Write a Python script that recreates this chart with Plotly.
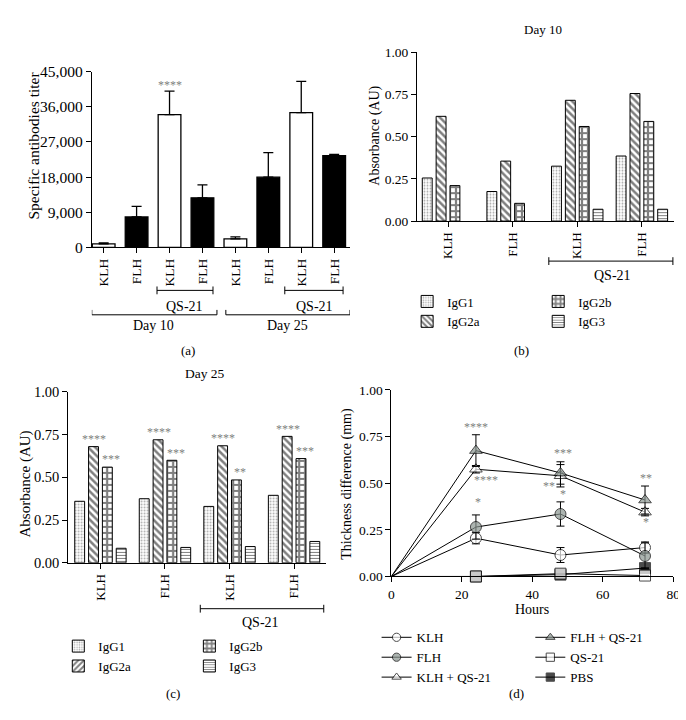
import plotly.graph_objects as go

W, H = 686, 720
FONT = "Liberation Serif"
STAR = "#808080"
GREY = "#8a9590"

# ---------------- data ----------------
# (a) specific antibody titer
a_labels = ["KLH", "FLH", "KLH", "FLH", "KLH", "FLH", "KLH", "FLH"]
a_values = [900, 7800, 34000, 12700, 2200, 18000, 34500, 23500]
a_err = [250, 2700, 6000, 3300, 500, 6300, 8000, 300]
a_fill = ["white", "black", "white", "black", "white", "black", "white", "black"]

# (b) Day 10 isotypes, (c) Day 25 isotypes
groups = ["KLH", "FLH", "KLH", "FLH"]
isotypes = ["IgG1", "IgG2a", "IgG2b", "IgG3"]
b_values = {
    "IgG1": [0.255, 0.175, 0.325, 0.385],
    "IgG2a": [0.62, 0.355, 0.715, 0.755],
    "IgG2b": [0.21, 0.105, 0.56, 0.59],
    "IgG3": [None, None, 0.07, 0.07],
}
c_values = {
    "IgG1": [0.36, 0.375, 0.33, 0.395],
    "IgG2a": [0.68, 0.72, 0.685, 0.74],
    "IgG2b": [0.56, 0.60, 0.485, 0.61],
    "IgG3": [0.085, 0.09, 0.095, 0.125],
}
c_stars_2a = ["****", "****", "****", "****"]
c_stars_2b = ["***", "***", "**", "***"]

# (d) DTH thickness difference
hours = [0, 24, 48, 72]
d_series = {
    "KLH": ([0, 0.205, 0.115, 0.155], [0, 0.03, 0.04, 0.03]),
    "FLH": ([0, 0.265, 0.335, 0.11], [0, 0.065, 0.065, 0.07]),
    "KLH + QS-21": ([0, 0.575, 0.54, 0.345], [0, 0.02, 0.06, 0.02]),
    "FLH + QS-21": ([0, 0.675, 0.555, 0.41], [0, 0.085, 0.06, 0.075]),
    "PBS": ([0, 0.0, 0.01, 0.045], [0, 0, 0, 0]),
    "QS-21": ([0, 0.0, 0.015, 0.005], [0, 0, 0, 0]),
}
d_stars = [(24, 0.80, "****"), (27, 0.52, "****"), (24.6, 0.40, "*"),
           (48.7, 0.66, "***"), (44.8, 0.485, "**"), (48.7, 0.44, "*"),
           (72.2, 0.53, "**"), (72.4, 0.29, "*")]


def PX(x):
    return x / W


def PY(y):
    return 1 - y / H


patterns_b = {
    "IgG1": dict(shape=".", fgcolor="#555", bgcolor="white", size=3, solidity=0.3),
    "IgG2a": dict(shape="\\", fgcolor="black", bgcolor="white", size=5, solidity=0.5),
    "IgG2b": dict(shape="+", fgcolor="black", bgcolor="white", size=6, solidity=0.6),
    "IgG3": dict(shape="-", fgcolor="black", bgcolor="white", size=3, solidity=0.35),
}
patterns_c_legend = dict(patterns_b)
patterns_c_legend["IgG2a"] = dict(shape="/", fgcolor="black", bgcolor="white", size=5, solidity=0.5)

fig = go.Figure()

# ---------------- panel (a) ----------------
fig.add_trace(go.Bar(
    x=list(range(len(a_values))), y=a_values, width=0.69,
    marker=dict(color=a_fill, line=dict(color="black", width=1.3)),
    error_y=dict(type="data", array=a_err, arrayminus=[0] * len(a_err), symmetric=False,
                 color="black", thickness=1.3, width=5),
    xaxis="x", yaxis="y", showlegend=False))

# ---------------- panels (b) and (c) ----------------
slot = 14 / 65.3
bw = 10 / 65.3
legend_of = {"IgG1": "legend2", "IgG2a": "legend2", "IgG2b": "legend3", "IgG3": "legend3"}
legend_of_c = {"IgG1": "legend4", "IgG2a": "legend4", "IgG2b": "legend5", "IgG3": "legend5"}
for i, iso in enumerate(isotypes):
    off = (i - 1.5) * slot - bw / 2
    fig.add_trace(go.Bar(
        x=list(range(4)), y=b_values[iso], width=bw, offset=off, name=iso,
        marker=dict(color="white", line=dict(color="black", width=1), pattern=patterns_b[iso]),
        xaxis="x2", yaxis="y2", legend=legend_of[iso], showlegend=True))
    fig.add_trace(go.Bar(
        x=list(range(4)), y=c_values[iso], width=bw, offset=off, name=iso,
        marker=dict(color="white", line=dict(color="black", width=1), pattern=patterns_b[iso]),
        xaxis="x3", yaxis="y3", showlegend=False))
    fig.add_trace(go.Bar(
        x=[None], y=[None], name=iso,
        marker=dict(color="white", line=dict(color="black", width=1), pattern=patterns_c_legend[iso]),
        xaxis="x3", yaxis="y3", legend=legend_of_c[iso], showlegend=True))

# ---------------- panel (d) ----------------
styles = {
    "KLH": dict(symbol="circle", color="white", legend="legend"),
    "FLH": dict(symbol="circle", color=GREY, legend="legend"),
    "KLH + QS-21": dict(symbol="triangle-up", color="white", legend="legend"),
    "FLH + QS-21": dict(symbol="triangle-up", color=GREY, legend="legend6"),
    "PBS": dict(symbol="square", color="black", legend="legend6"),
    "QS-21": dict(symbol="square", color="white", legend="legend6"),
}
rank = {"KLH": 1, "FLH": 2, "KLH + QS-21": 3, "FLH + QS-21": 4, "QS-21": 5, "PBS": 6}
for name, (vals, errs) in d_series.items():
    st = styles[name]
    fig.add_trace(go.Scatter(
        x=hours, y=vals, mode="lines+markers", name=name, cliponaxis=False,
        line=dict(color="black", width=1),
        marker=dict(symbol=st["symbol"], color=st["color"], size=[0, 11, 11, 11],
                    line=dict(color="black", width=1)),
        error_y=dict(type="data", array=errs, color="black", thickness=1, width=4),
        xaxis="x4", yaxis="y4", legend=st["legend"], legendrank=rank[name]))

# ---------------- axes ----------------
def f(size):
    return dict(family=FONT, size=size, color="black")


common = dict(showgrid=False, zeroline=False, showline=True, linecolor="black", linewidth=1,
              ticks="outside", ticklen=5, tickcolor="black")

fig.update_layout(
    width=W, height=H, margin=dict(l=0, r=0, t=0, b=0),
    paper_bgcolor="white", plot_bgcolor="white",
    font=dict(family=FONT, size=14, color="black"),
    barmode="overlay",
    xaxis=dict(domain=[PX(82), PX(344)], anchor="y", range=[-0.36, 7.48], tickfont=f(13.5),
               tickvals=list(range(8)), ticktext=a_labels, tickangle=-90, **common),
    yaxis=dict(domain=[PY(236), PY(56)], anchor="x", range=[0, 45000], tickfont=f(15.5),
               tickvals=[0, 9000, 18000, 27000, 36000, 45000], tickformat=",d", **common),
    xaxis2=dict(domain=[PX(412), PX(673)], anchor="y2", range=[-0.48, 3.5], tickfont=f(13),
                tickvals=list(range(4)), ticktext=groups, tickangle=-90, **common),
    yaxis2=dict(domain=[PY(209), PY(36)], anchor="x2", range=[0, 1], tickfont=f(13.5),
                tickvals=[0, 0.25, 0.5, 0.75, 1.0], tickformat=".2f", **common),
    xaxis3=dict(domain=[PX(58), PX(320)], anchor="y3", range=[-0.5, 3.5], tickfont=f(13),
                tickvals=list(range(4)), ticktext=groups, tickangle=-90, **common),
    yaxis3=dict(domain=[PY(559), PY(384)], anchor="x3", range=[0, 1], tickfont=f(14.5),
                tickvals=[0, 0.25, 0.5, 0.75, 1.0], tickformat=".2f", **common),
    xaxis4=dict(domain=[PX(386), PX(672)], anchor="y4", range=[0, 80], tickfont=f(13.5),
                tickvals=[0, 20, 40, 60, 80], **common),
    yaxis4=dict(domain=[PY(573), PY(382)], anchor="x4", range=[0, 1], tickfont=f(13.5),
                tickvals=[0, 0.25, 0.5, 0.75, 1.0], tickformat=".2f", **common),
)

legbase = dict(orientation="v", bgcolor="rgba(0,0,0,0)", borderwidth=0,
               xanchor="left", yanchor="top", itemclick=False, tracegroupgap=0)
fig.update_layout(
    legend=dict(x=PX(371), y=PY(620), font=f(13), **legbase),
    legend6=dict(x=PX(527), y=PY(620), font=f(13), **legbase),
    legend2=dict(x=PX(402), y=PY(276), font=f(13), **legbase),
    legend3=dict(x=PX(535), y=PY(276), font=f(13), **legbase),
    legend4=dict(x=PX(48), y=PY(629), font=f(13), **legbase),
    legend5=dict(x=PX(181), y=PY(629), font=f(13), **legbase),
)

# ---------------- annotations ----------------
ann = []


def text(x, y, t, size=14, color="black", angle=0, xref="paper", yref="paper"):
    ann.append(dict(x=x, y=y, xref=xref, yref=yref, text=t, showarrow=False,
                    font=dict(family=FONT, size=size, color=color), textangle=angle,
                    xanchor="center", yanchor="middle"))


# axis titles
text(PX(23), PY(132), "Specific antibodies titer", 15.5, angle=-90)
text(PX(370), PY(122), "Absorbance (AU)", 14, angle=-90)
text(PX(15), PY(478), "Absorbance (AU)", 15, angle=-90)
text(PX(341), PY(478), "Thickness difference (mm)", 14, angle=-90)
text(PX(529), PY(607), "Hours", 14)

# titles
text(PX(540), PY(13), "Day 10", 13)
text(PX(197), PY(365), "Day 25", 13.5)

# panel letters
text(PX(180), PY(342), "(a)", 13)
text(PX(518), PY(342), "(b)", 13)
text(PX(164), PY(693), "(c)", 13)
text(PX(513), PY(693), "(d)", 13)

# bracket labels
text(PX(176), PY(296), "QS-21", 14)
text(PX(308), PY(296), "QS-21", 14)
text(PX(145), PY(316), "Day 10", 14)
text(PX(281), PY(316), "Day 25", 14)
text(PX(610), PY(265), "QS-21", 14)
text(PX(253), PY(620), "QS-21", 14)

# stars (a)
text(2, 41700, "****", 12, STAR, xref="x", yref="y")
text(6, 46500, "***", 12, STAR, xref="x", yref="y")

# stars (c)
for g in range(4):
    text(g - 0.5 * slot + 0.01, c_values["IgG2a"][g] + 0.045, c_stars_2a[g], 12, STAR, xref="x3", yref="y3")
    text(g + 0.5 * slot + 0.06, c_values["IgG2b"][g] + 0.045, c_stars_2b[g], 12, STAR, xref="x3", yref="y3")

# stars (d)
for hx, vy, s in d_stars:
    text(hx, vy, s, 12, STAR, xref="x4", yref="y4")

fig.update_layout(annotations=ann)

# ---------------- brackets ----------------
shapes = []


def bracket(x0, x1, y, xref, kind):
    line = dict(color="black", width=1)
    shapes.append(dict(type="line", xref=xref, yref="paper", x0=x0, x1=x1, y0=PY(y), y1=PY(y), line=line))
    if kind == "center":
        t0, t1 = y - 4, y + 4
    else:
        t0, t1 = y - 5, y
    for xx in (x0, x1):
        shapes.append(dict(type="line", xref=xref, yref="paper", x0=xx, x1=xx, y0=PY(t0), y1=PY(t1), line=line))


bracket(1.62, 3.32, 280, "x", "center")
bracket(5.5, 7.27, 280, "x", "center")
bracket(-0.36, 3.44, 305, "x", "up")
bracket(3.71, 7.48, 305, "x", "up")
bracket(1.56, 3.48, 250, "x2", "center")
bracket(1.547, 3.46, 606, "x3", "center")
fig.update_layout(shapes=shapes)

fig.write_html("out.html")
